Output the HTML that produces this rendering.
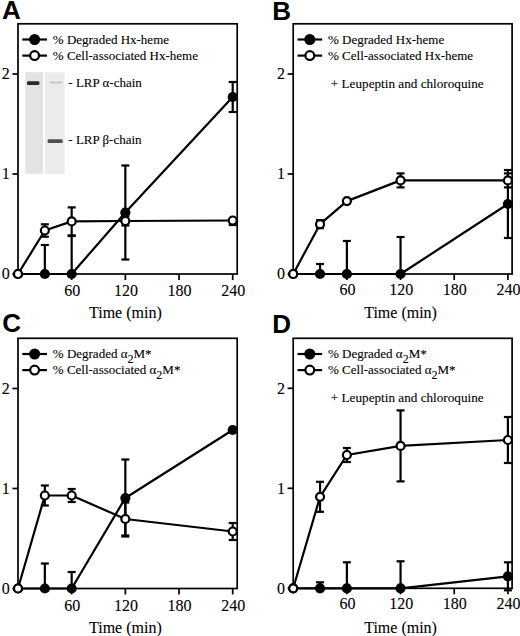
<!DOCTYPE html>
<html><head><meta charset="utf-8"><style>
html,body{margin:0;padding:0;background:#fff;}
body{width:520px;height:636px;overflow:hidden;}
svg{display:block;}
.lab{font-family:"Liberation Sans",sans-serif;font-weight:bold;font-size:26px;}
.tk{font-family:"Liberation Serif",serif;font-size:16px;stroke:#000;stroke-width:0.1px;}
.t13{font-family:"Liberation Serif",serif;font-size:13px;stroke:#000;stroke-width:0.1px;}
.sub{font-size:12px;}
</style></head><body>
<svg width="520" height="636" viewBox="0 0 520 636">
<defs><filter id="bl2" x="-10%" y="-5%" width="120%" height="110%"><feGaussianBlur stdDeviation="0.5"/></filter><filter id="bl" x="-20%" y="-50%" width="140%" height="200%"><feGaussianBlur stdDeviation="0.7"/></filter></defs>
<rect width="520" height="636" fill="#fff"/>
<text x="2" y="19" class="lab">A</text>
<rect x="25.3" y="72.2" width="17.8" height="101.5" fill="#e3e3e3" filter="url(#bl2)"/>
<rect x="45" y="72.2" width="19.6" height="101.5" fill="#ebebeb" filter="url(#bl2)"/>
<rect x="27" y="81.2" width="12.4" height="3.8" rx="1.2" fill="#2a2a2a" filter="url(#bl)"/>
<rect x="50" y="81.6" width="12" height="1.8" fill="#c4c4c4" filter="url(#bl)"/>
<rect x="47.6" y="139.3" width="15" height="3.8" rx="1.2" fill="#505050" filter="url(#bl)"/>
<text x="68.3" y="87.3" class="t13">- LRP α-chain</text>
<text x="68.3" y="143.9" class="t13">- LRP β-chain</text>
<rect x="18" y="23.8" width="219.2" height="250.2" fill="none" stroke="#000" stroke-width="1.7"/>
<line x1="12.4" y1="274" x2="18" y2="274" stroke="#000" stroke-width="1.7"/>
<text x="5.7" y="279.2" class="tk" text-anchor="middle">0</text>
<line x1="12.4" y1="174" x2="18" y2="174" stroke="#000" stroke-width="1.7"/>
<text x="5.7" y="179.2" class="tk" text-anchor="middle">1</text>
<line x1="12.4" y1="74" x2="18" y2="74" stroke="#000" stroke-width="1.7"/>
<text x="5.7" y="79.2" class="tk" text-anchor="middle">2</text>
<line x1="71.67" y1="274" x2="71.67" y2="280" stroke="#000" stroke-width="1.7"/>
<text x="72.27" y="295.7" class="tk" text-anchor="middle">60</text>
<line x1="125.35" y1="274" x2="125.35" y2="280" stroke="#000" stroke-width="1.7"/>
<text x="125.95" y="295.7" class="tk" text-anchor="middle">120</text>
<line x1="179.02" y1="274" x2="179.02" y2="280" stroke="#000" stroke-width="1.7"/>
<text x="179.62" y="295.7" class="tk" text-anchor="middle">180</text>
<line x1="232.7" y1="274" x2="232.7" y2="280" stroke="#000" stroke-width="1.7"/>
<text x="233.3" y="295.7" class="tk" text-anchor="middle">240</text>
<text x="125.35" y="318.2" class="tk" text-anchor="middle">Time (min)</text>
<line x1="22.3" y1="39.5" x2="47" y2="39.5" stroke="#000" stroke-width="2.2"/>
<circle cx="34.6" cy="39.5" r="5.5" fill="#000"/>
<text x="52.8" y="43.5" class="t13">% Degraded Hx-heme</text>
<line x1="22.3" y1="55.6" x2="47" y2="55.6" stroke="#000" stroke-width="2.2"/>
<circle cx="34.6" cy="55.6" r="4.4" fill="#fff" stroke="#000" stroke-width="2.2"/>
<text x="52.8" y="59.6" class="t13">% Cell-associated Hx-heme</text>
<line x1="44.84" y1="274" x2="44.84" y2="245" stroke="#000" stroke-width="2.2"/>
<line x1="40.84" y1="245" x2="48.84" y2="245" stroke="#000" stroke-width="2.2"/>
<line x1="71.67" y1="274" x2="71.67" y2="236" stroke="#000" stroke-width="2.2"/>
<line x1="67.67" y1="236" x2="75.67" y2="236" stroke="#000" stroke-width="2.2"/>
<line x1="125.35" y1="259.5" x2="125.35" y2="165.5" stroke="#000" stroke-width="2.2"/>
<line x1="121.35" y1="165.5" x2="129.35" y2="165.5" stroke="#000" stroke-width="2.2"/>
<line x1="121.35" y1="259.5" x2="129.35" y2="259.5" stroke="#000" stroke-width="2.2"/>
<line x1="232.7" y1="112" x2="232.7" y2="82" stroke="#000" stroke-width="2.2"/>
<line x1="228.7" y1="82" x2="236.7" y2="82" stroke="#000" stroke-width="2.2"/>
<line x1="228.7" y1="112" x2="236.7" y2="112" stroke="#000" stroke-width="2.2"/>
<line x1="44.84" y1="236.7" x2="44.84" y2="224.3" stroke="#000" stroke-width="2.2"/>
<line x1="40.84" y1="224.3" x2="48.84" y2="224.3" stroke="#000" stroke-width="2.2"/>
<line x1="40.84" y1="236.7" x2="48.84" y2="236.7" stroke="#000" stroke-width="2.2"/>
<line x1="71.67" y1="235.4" x2="71.67" y2="207.4" stroke="#000" stroke-width="2.2"/>
<line x1="67.67" y1="207.4" x2="75.67" y2="207.4" stroke="#000" stroke-width="2.2"/>
<line x1="67.67" y1="235.4" x2="75.67" y2="235.4" stroke="#000" stroke-width="2.2"/>
<line x1="125.35" y1="225.5" x2="125.35" y2="216.5" stroke="#000" stroke-width="2.2"/>
<line x1="121.35" y1="216.5" x2="129.35" y2="216.5" stroke="#000" stroke-width="2.2"/>
<line x1="121.35" y1="225.5" x2="129.35" y2="225.5" stroke="#000" stroke-width="2.2"/>
<line x1="232.7" y1="225" x2="232.7" y2="220.5" stroke="#000" stroke-width="2.2"/>
<line x1="228.7" y1="220.5" x2="236.7" y2="220.5" stroke="#000" stroke-width="2.2"/>
<line x1="228.7" y1="225" x2="236.7" y2="225" stroke="#000" stroke-width="2.2"/>
<polyline points="18,274 44.84,274 71.67,274 125.35,212.5 232.7,97" fill="none" stroke="#000" stroke-width="2.2" stroke-linejoin="round"/>
<polyline points="18,274 44.84,230.5 71.67,221.4 125.35,221 232.7,220.5" fill="none" stroke="#000" stroke-width="2.2" stroke-linejoin="round"/>
<circle cx="18" cy="274" r="5.1" fill="#000"/>
<circle cx="44.84" cy="274" r="5.1" fill="#000"/>
<circle cx="71.67" cy="274" r="5.1" fill="#000"/>
<circle cx="125.35" cy="212.5" r="5.1" fill="#000"/>
<circle cx="232.7" cy="97" r="5.1" fill="#000"/>
<circle cx="18" cy="274" r="4.0" fill="#fff" stroke="#000" stroke-width="2.2"/>
<circle cx="44.84" cy="230.5" r="4.0" fill="#fff" stroke="#000" stroke-width="2.2"/>
<circle cx="71.67" cy="221.4" r="4.0" fill="#fff" stroke="#000" stroke-width="2.2"/>
<circle cx="125.35" cy="221" r="4.0" fill="#fff" stroke="#000" stroke-width="2.2"/>
<circle cx="232.7" cy="220.5" r="4.0" fill="#fff" stroke="#000" stroke-width="2.2"/>
<text x="272.3" y="20.4" class="lab">B</text>
<rect x="293.2" y="23.8" width="218.9" height="250.2" fill="none" stroke="#000" stroke-width="1.7"/>
<line x1="287.6" y1="274" x2="293.2" y2="274" stroke="#000" stroke-width="1.7"/>
<text x="280.9" y="279.2" class="tk" text-anchor="middle">0</text>
<line x1="287.6" y1="174" x2="293.2" y2="174" stroke="#000" stroke-width="1.7"/>
<text x="280.9" y="179.2" class="tk" text-anchor="middle">1</text>
<line x1="287.6" y1="74" x2="293.2" y2="74" stroke="#000" stroke-width="1.7"/>
<text x="280.9" y="79.2" class="tk" text-anchor="middle">2</text>
<line x1="346.88" y1="274" x2="346.88" y2="280" stroke="#000" stroke-width="1.7"/>
<text x="347.48" y="294.5" class="tk" text-anchor="middle">60</text>
<line x1="400.55" y1="274" x2="400.55" y2="280" stroke="#000" stroke-width="1.7"/>
<text x="401.15" y="294.5" class="tk" text-anchor="middle">120</text>
<line x1="454.22" y1="274" x2="454.22" y2="280" stroke="#000" stroke-width="1.7"/>
<text x="454.82" y="294.5" class="tk" text-anchor="middle">180</text>
<line x1="507.9" y1="274" x2="507.9" y2="280" stroke="#000" stroke-width="1.7"/>
<text x="508.5" y="294.5" class="tk" text-anchor="middle">240</text>
<text x="400.55" y="318.2" class="tk" text-anchor="middle">Time (min)</text>
<line x1="297.5" y1="39.5" x2="322.2" y2="39.5" stroke="#000" stroke-width="2.2"/>
<circle cx="309.8" cy="39.5" r="5.5" fill="#000"/>
<text x="328" y="43.5" class="t13">% Degraded Hx-heme</text>
<line x1="297.5" y1="55.6" x2="322.2" y2="55.6" stroke="#000" stroke-width="2.2"/>
<circle cx="309.8" cy="55.6" r="4.4" fill="#fff" stroke="#000" stroke-width="2.2"/>
<text x="328" y="59.6" class="t13">% Cell-associated Hx-heme</text>
<text x="330.8" y="87.6" class="t13" style="font-size:13.2px">+ Leupeptin and chloroquine</text>
<line x1="320.04" y1="274" x2="320.04" y2="264" stroke="#000" stroke-width="2.2"/>
<line x1="316.04" y1="264" x2="324.04" y2="264" stroke="#000" stroke-width="2.2"/>
<line x1="346.88" y1="274" x2="346.88" y2="241" stroke="#000" stroke-width="2.2"/>
<line x1="342.88" y1="241" x2="350.88" y2="241" stroke="#000" stroke-width="2.2"/>
<line x1="400.55" y1="274" x2="400.55" y2="237" stroke="#000" stroke-width="2.2"/>
<line x1="396.55" y1="237" x2="404.55" y2="237" stroke="#000" stroke-width="2.2"/>
<line x1="507.9" y1="238" x2="507.9" y2="170" stroke="#000" stroke-width="2.2"/>
<line x1="503.9" y1="170" x2="511.9" y2="170" stroke="#000" stroke-width="2.2"/>
<line x1="503.9" y1="238" x2="511.9" y2="238" stroke="#000" stroke-width="2.2"/>
<line x1="320.04" y1="228.2" x2="320.04" y2="220.2" stroke="#000" stroke-width="2.2"/>
<line x1="316.04" y1="220.2" x2="324.04" y2="220.2" stroke="#000" stroke-width="2.2"/>
<line x1="316.04" y1="228.2" x2="324.04" y2="228.2" stroke="#000" stroke-width="2.2"/>
<line x1="400.55" y1="187.4" x2="400.55" y2="173.4" stroke="#000" stroke-width="2.2"/>
<line x1="396.55" y1="173.4" x2="404.55" y2="173.4" stroke="#000" stroke-width="2.2"/>
<line x1="396.55" y1="187.4" x2="404.55" y2="187.4" stroke="#000" stroke-width="2.2"/>
<line x1="507.9" y1="187.4" x2="507.9" y2="173.4" stroke="#000" stroke-width="2.2"/>
<line x1="503.9" y1="173.4" x2="511.9" y2="173.4" stroke="#000" stroke-width="2.2"/>
<line x1="503.9" y1="187.4" x2="511.9" y2="187.4" stroke="#000" stroke-width="2.2"/>
<polyline points="293.2,274 320.04,274 346.88,274 400.55,274 507.9,204" fill="none" stroke="#000" stroke-width="2.2" stroke-linejoin="round"/>
<polyline points="293.2,274 320.04,224.2 346.88,201.1 400.55,180.4 507.9,180.4" fill="none" stroke="#000" stroke-width="2.2" stroke-linejoin="round"/>
<circle cx="293.2" cy="274" r="5.1" fill="#000"/>
<circle cx="320.04" cy="274" r="5.1" fill="#000"/>
<circle cx="346.88" cy="274" r="5.1" fill="#000"/>
<circle cx="400.55" cy="274" r="5.1" fill="#000"/>
<circle cx="507.9" cy="204" r="5.1" fill="#000"/>
<circle cx="293.2" cy="274" r="4.0" fill="#fff" stroke="#000" stroke-width="2.2"/>
<circle cx="320.04" cy="224.2" r="4.0" fill="#fff" stroke="#000" stroke-width="2.2"/>
<circle cx="346.88" cy="201.1" r="4.0" fill="#fff" stroke="#000" stroke-width="2.2"/>
<circle cx="400.55" cy="180.4" r="4.0" fill="#fff" stroke="#000" stroke-width="2.2"/>
<circle cx="507.9" cy="180.4" r="4.0" fill="#fff" stroke="#000" stroke-width="2.2"/>
<text x="2.3" y="332.2" class="lab">C</text>
<rect x="18" y="338.3" width="219.2" height="250.2" fill="none" stroke="#000" stroke-width="1.7"/>
<line x1="12.4" y1="588.5" x2="18" y2="588.5" stroke="#000" stroke-width="1.7"/>
<text x="5.7" y="593.7" class="tk" text-anchor="middle">0</text>
<line x1="12.4" y1="488.5" x2="18" y2="488.5" stroke="#000" stroke-width="1.7"/>
<text x="5.7" y="493.7" class="tk" text-anchor="middle">1</text>
<line x1="12.4" y1="388.5" x2="18" y2="388.5" stroke="#000" stroke-width="1.7"/>
<text x="5.7" y="393.7" class="tk" text-anchor="middle">2</text>
<line x1="71.67" y1="588.5" x2="71.67" y2="594.5" stroke="#000" stroke-width="1.7"/>
<text x="72.27" y="611" class="tk" text-anchor="middle">60</text>
<line x1="125.35" y1="588.5" x2="125.35" y2="594.5" stroke="#000" stroke-width="1.7"/>
<text x="125.95" y="611" class="tk" text-anchor="middle">120</text>
<line x1="179.02" y1="588.5" x2="179.02" y2="594.5" stroke="#000" stroke-width="1.7"/>
<text x="179.62" y="611" class="tk" text-anchor="middle">180</text>
<line x1="232.7" y1="588.5" x2="232.7" y2="594.5" stroke="#000" stroke-width="1.7"/>
<text x="233.3" y="611" class="tk" text-anchor="middle">240</text>
<text x="125.35" y="632.7" class="tk" text-anchor="middle">Time (min)</text>
<line x1="22.3" y1="354" x2="47" y2="354" stroke="#000" stroke-width="2.2"/>
<circle cx="34.6" cy="354" r="5.5" fill="#000"/>
<text x="52.8" y="358" class="t13">% Degraded α<tspan dy="4.5" class="sub">2</tspan><tspan dy="-4.5">M*</tspan></text>
<line x1="22.3" y1="370.1" x2="47" y2="370.1" stroke="#000" stroke-width="2.2"/>
<circle cx="34.6" cy="370.1" r="4.4" fill="#fff" stroke="#000" stroke-width="2.2"/>
<text x="52.8" y="374.1" class="t13">% Cell-associated α<tspan dy="4.5" class="sub">2</tspan><tspan dy="-4.5">M*</tspan></text>
<line x1="44.84" y1="588.5" x2="44.84" y2="563.5" stroke="#000" stroke-width="2.2"/>
<line x1="40.84" y1="563.5" x2="48.84" y2="563.5" stroke="#000" stroke-width="2.2"/>
<line x1="71.67" y1="588.5" x2="71.67" y2="572" stroke="#000" stroke-width="2.2"/>
<line x1="67.67" y1="572" x2="75.67" y2="572" stroke="#000" stroke-width="2.2"/>
<line x1="125.35" y1="536.5" x2="125.35" y2="459.5" stroke="#000" stroke-width="2.2"/>
<line x1="121.35" y1="459.5" x2="129.35" y2="459.5" stroke="#000" stroke-width="2.2"/>
<line x1="121.35" y1="536.5" x2="129.35" y2="536.5" stroke="#000" stroke-width="2.2"/>
<line x1="44.84" y1="505.5" x2="44.84" y2="485.5" stroke="#000" stroke-width="2.2"/>
<line x1="40.84" y1="485.5" x2="48.84" y2="485.5" stroke="#000" stroke-width="2.2"/>
<line x1="40.84" y1="505.5" x2="48.84" y2="505.5" stroke="#000" stroke-width="2.2"/>
<line x1="71.67" y1="502" x2="71.67" y2="489" stroke="#000" stroke-width="2.2"/>
<line x1="67.67" y1="489" x2="75.67" y2="489" stroke="#000" stroke-width="2.2"/>
<line x1="67.67" y1="502" x2="75.67" y2="502" stroke="#000" stroke-width="2.2"/>
<line x1="125.35" y1="535.5" x2="125.35" y2="502.5" stroke="#000" stroke-width="2.2"/>
<line x1="121.35" y1="502.5" x2="129.35" y2="502.5" stroke="#000" stroke-width="2.2"/>
<line x1="121.35" y1="535.5" x2="129.35" y2="535.5" stroke="#000" stroke-width="2.2"/>
<line x1="232.7" y1="540" x2="232.7" y2="523" stroke="#000" stroke-width="2.2"/>
<line x1="228.7" y1="523" x2="236.7" y2="523" stroke="#000" stroke-width="2.2"/>
<line x1="228.7" y1="540" x2="236.7" y2="540" stroke="#000" stroke-width="2.2"/>
<polyline points="18,588.5 44.84,588.5 71.67,588.5 125.35,498 232.7,430" fill="none" stroke="#000" stroke-width="2.2" stroke-linejoin="round"/>
<polyline points="18,588.5 44.84,495.5 71.67,495.5 125.35,519 232.7,531.5" fill="none" stroke="#000" stroke-width="2.2" stroke-linejoin="round"/>
<circle cx="18" cy="588.5" r="5.1" fill="#000"/>
<circle cx="44.84" cy="588.5" r="5.1" fill="#000"/>
<circle cx="71.67" cy="588.5" r="5.1" fill="#000"/>
<circle cx="125.35" cy="498" r="5.1" fill="#000"/>
<circle cx="232.7" cy="430" r="5.1" fill="#000"/>
<circle cx="18" cy="588.5" r="4.0" fill="#fff" stroke="#000" stroke-width="2.2"/>
<circle cx="44.84" cy="495.5" r="4.0" fill="#fff" stroke="#000" stroke-width="2.2"/>
<circle cx="71.67" cy="495.5" r="4.0" fill="#fff" stroke="#000" stroke-width="2.2"/>
<circle cx="125.35" cy="519" r="4.0" fill="#fff" stroke="#000" stroke-width="2.2"/>
<circle cx="232.7" cy="531.5" r="4.0" fill="#fff" stroke="#000" stroke-width="2.2"/>
<text x="272.3" y="333.4" class="lab">D</text>
<rect x="293.2" y="338.3" width="218.9" height="250" fill="none" stroke="#000" stroke-width="1.7"/>
<line x1="287.6" y1="588.3" x2="293.2" y2="588.3" stroke="#000" stroke-width="1.7"/>
<text x="280.9" y="593.5" class="tk" text-anchor="middle">0</text>
<line x1="287.6" y1="488.3" x2="293.2" y2="488.3" stroke="#000" stroke-width="1.7"/>
<text x="280.9" y="493.5" class="tk" text-anchor="middle">1</text>
<line x1="287.6" y1="388.3" x2="293.2" y2="388.3" stroke="#000" stroke-width="1.7"/>
<text x="280.9" y="393.5" class="tk" text-anchor="middle">2</text>
<line x1="346.88" y1="588.3" x2="346.88" y2="594.3" stroke="#000" stroke-width="1.7"/>
<text x="347.48" y="609.4" class="tk" text-anchor="middle">60</text>
<line x1="400.55" y1="588.3" x2="400.55" y2="594.3" stroke="#000" stroke-width="1.7"/>
<text x="401.15" y="609.4" class="tk" text-anchor="middle">120</text>
<line x1="454.22" y1="588.3" x2="454.22" y2="594.3" stroke="#000" stroke-width="1.7"/>
<text x="454.82" y="609.4" class="tk" text-anchor="middle">180</text>
<line x1="507.9" y1="588.3" x2="507.9" y2="594.3" stroke="#000" stroke-width="1.7"/>
<text x="508.5" y="609.4" class="tk" text-anchor="middle">240</text>
<text x="400.55" y="632.5" class="tk" text-anchor="middle">Time (min)</text>
<line x1="297.5" y1="354" x2="322.2" y2="354" stroke="#000" stroke-width="2.2"/>
<circle cx="309.8" cy="354" r="5.5" fill="#000"/>
<text x="328" y="358" class="t13">% Degraded α<tspan dy="4.5" class="sub">2</tspan><tspan dy="-4.5">M*</tspan></text>
<line x1="297.5" y1="370.1" x2="322.2" y2="370.1" stroke="#000" stroke-width="2.2"/>
<circle cx="309.8" cy="370.1" r="4.4" fill="#fff" stroke="#000" stroke-width="2.2"/>
<text x="328" y="374.1" class="t13">% Cell-associated α<tspan dy="4.5" class="sub">2</tspan><tspan dy="-4.5">M*</tspan></text>
<text x="330.8" y="402.1" class="t13" style="font-size:13.2px">+ Leupeptin and chloroquine</text>
<line x1="320.04" y1="588.3" x2="320.04" y2="582.3" stroke="#000" stroke-width="2.2"/>
<line x1="316.04" y1="582.3" x2="324.04" y2="582.3" stroke="#000" stroke-width="2.2"/>
<line x1="346.88" y1="588.3" x2="346.88" y2="562.3" stroke="#000" stroke-width="2.2"/>
<line x1="342.88" y1="562.3" x2="350.88" y2="562.3" stroke="#000" stroke-width="2.2"/>
<line x1="400.55" y1="588.3" x2="400.55" y2="561.3" stroke="#000" stroke-width="2.2"/>
<line x1="396.55" y1="561.3" x2="404.55" y2="561.3" stroke="#000" stroke-width="2.2"/>
<line x1="507.9" y1="590.3" x2="507.9" y2="562.3" stroke="#000" stroke-width="2.2"/>
<line x1="503.9" y1="562.3" x2="511.9" y2="562.3" stroke="#000" stroke-width="2.2"/>
<line x1="503.9" y1="590.3" x2="511.9" y2="590.3" stroke="#000" stroke-width="2.2"/>
<line x1="320.04" y1="511.8" x2="320.04" y2="481.8" stroke="#000" stroke-width="2.2"/>
<line x1="316.04" y1="481.8" x2="324.04" y2="481.8" stroke="#000" stroke-width="2.2"/>
<line x1="316.04" y1="511.8" x2="324.04" y2="511.8" stroke="#000" stroke-width="2.2"/>
<line x1="346.88" y1="462" x2="346.88" y2="448" stroke="#000" stroke-width="2.2"/>
<line x1="342.88" y1="448" x2="350.88" y2="448" stroke="#000" stroke-width="2.2"/>
<line x1="342.88" y1="462" x2="350.88" y2="462" stroke="#000" stroke-width="2.2"/>
<line x1="400.55" y1="481.4" x2="400.55" y2="410.4" stroke="#000" stroke-width="2.2"/>
<line x1="396.55" y1="410.4" x2="404.55" y2="410.4" stroke="#000" stroke-width="2.2"/>
<line x1="396.55" y1="481.4" x2="404.55" y2="481.4" stroke="#000" stroke-width="2.2"/>
<line x1="507.9" y1="463" x2="507.9" y2="417" stroke="#000" stroke-width="2.2"/>
<line x1="503.9" y1="417" x2="511.9" y2="417" stroke="#000" stroke-width="2.2"/>
<line x1="503.9" y1="463" x2="511.9" y2="463" stroke="#000" stroke-width="2.2"/>
<polyline points="293.2,588.3 320.04,588.3 346.88,588.3 400.55,588.3 507.9,576.3" fill="none" stroke="#000" stroke-width="2.2" stroke-linejoin="round"/>
<polyline points="293.2,588.3 320.04,496.8 346.88,455 400.55,445.9 507.9,440" fill="none" stroke="#000" stroke-width="2.2" stroke-linejoin="round"/>
<circle cx="293.2" cy="588.3" r="5.1" fill="#000"/>
<circle cx="320.04" cy="588.3" r="5.1" fill="#000"/>
<circle cx="346.88" cy="588.3" r="5.1" fill="#000"/>
<circle cx="400.55" cy="588.3" r="5.1" fill="#000"/>
<circle cx="507.9" cy="576.3" r="5.1" fill="#000"/>
<circle cx="293.2" cy="588.3" r="4.0" fill="#fff" stroke="#000" stroke-width="2.2"/>
<circle cx="320.04" cy="496.8" r="4.0" fill="#fff" stroke="#000" stroke-width="2.2"/>
<circle cx="346.88" cy="455" r="4.0" fill="#fff" stroke="#000" stroke-width="2.2"/>
<circle cx="400.55" cy="445.9" r="4.0" fill="#fff" stroke="#000" stroke-width="2.2"/>
<circle cx="507.9" cy="440" r="4.0" fill="#fff" stroke="#000" stroke-width="2.2"/>
</svg>
</body></html>
